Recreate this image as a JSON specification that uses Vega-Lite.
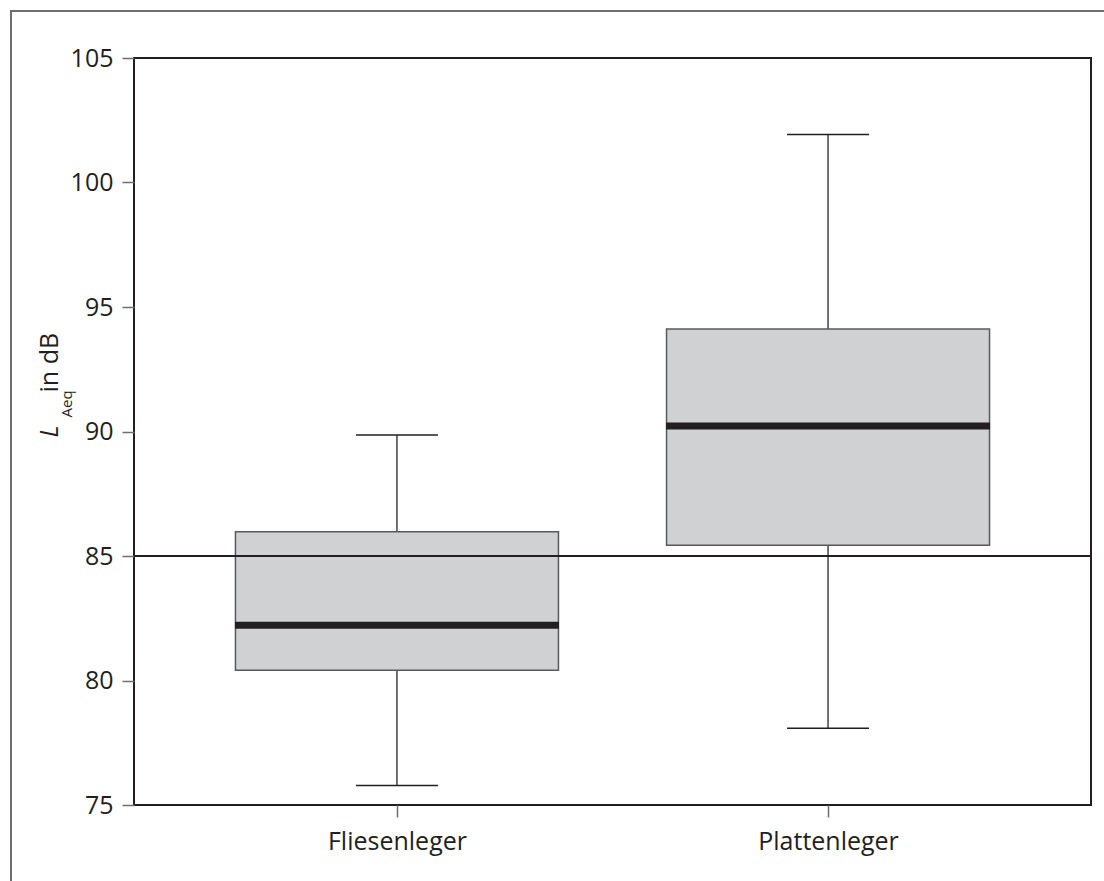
{
  "$schema": "https://vega.github.io/schema/vega-lite/v6.json",
  "width": 957,
  "height": 747,
  "autosize": "none",
  "padding": {"left": 134, "top": 58, "right": 13, "bottom": 76},
  "background": "white",
  "data": {
    "values": [
      {"group": "Fliesenleger", "lower": 75.78, "q1": 80.41, "median": 82.22, "q3": 85.97, "upper": 89.86},
      {"group": "Plattenleger", "lower": 78.08, "q1": 85.43, "median": 90.22, "q3": 94.12, "upper": 101.93}
    ]
  },
  "config": {
    "view": {"stroke": "#231f20", "strokeWidth": 2},
    "font": "Open Sans",
    "axis": {
      "grid": false,
      "domain": false,
      "labelFont": "Open Sans",
      "labelFontSize": 25,
      "labelColor": "#231f20",
      "tickColor": "#6d6e70",
      "tickSize": 12,
      "tickWidth": 1.5,
      "titleFont": "Open Sans",
      "titleColor": "#231f20",
      "titleFontWeight": "normal"
    }
  },
  "resolve": {"scale": {"y": "independent"}, "axis": {"y": "independent"}},
  "layer": [
    {
      "mark": {"type": "rule", "color": "#414042", "strokeWidth": 1.5},
      "encoding": {
        "x": {
          "field": "group",
          "type": "nominal",
          "scale": {"type": "point", "padding": 0.61},
          "axis": {"title": null, "labelAngle": 0, "labelPadding": 12}
        },
        "y": {
          "field": "lower",
          "type": "quantitative",
          "scale": {"domain": [75, 105], "nice": false, "zero": false},
          "axis": {
            "orient": "left",
            "values": [75, 80, 85, 90, 95, 100, 105],
            "labelPadding": 9,
            "title": "in dB",
            "titleFontSize": 25,
            "titleX": -77,
            "titleY": 334,
            "titleAngle": 270,
            "titleAlign": "left",
            "titleBaseline": "alphabetic"
          }
        },
        "y2": {"field": "upper"}
      }
    },
    {
      "mark": {"type": "bar", "size": 323, "fill": "#d0d1d3", "stroke": "#58595b", "strokeWidth": 1.5},
      "encoding": {
        "x": {"field": "group", "type": "nominal"},
        "y": {
          "field": "q1",
          "type": "quantitative",
          "scale": {"domain": [75, 105], "nice": false, "zero": false},
          "axis": {
            "orient": "left",
            "labels": false,
            "ticks": false,
            "domain": false,
            "title": "L",
            "titleFontStyle": "italic",
            "titleFontSize": 25,
            "titleX": -77,
            "titleY": 379,
            "titleAngle": 270,
            "titleAlign": "left",
            "titleBaseline": "alphabetic"
          }
        },
        "y2": {"field": "q3"}
      }
    },
    {
      "mark": {"type": "tick", "size": 324, "thickness": 7, "color": "#231f20", "opacity": 1},
      "encoding": {
        "x": {"field": "group", "type": "nominal"},
        "y": {
          "field": "median",
          "type": "quantitative",
          "scale": {"domain": [75, 105], "nice": false, "zero": false},
          "axis": {
            "orient": "left",
            "labels": false,
            "ticks": false,
            "domain": false,
            "title": "Aeq",
            "titleFontSize": 15,
            "titleX": -63,
            "titleY": 359,
            "titleAngle": 270,
            "titleAlign": "left",
            "titleBaseline": "alphabetic"
          }
        }
      }
    },
    {
      "transform": [{"fold": ["lower", "upper"], "as": ["k", "v"]}],
      "mark": {"type": "tick", "size": 82, "thickness": 1.5, "color": "#231f20", "opacity": 1},
      "encoding": {
        "x": {"field": "group", "type": "nominal"},
        "y": {
          "field": "v",
          "type": "quantitative",
          "scale": {"domain": [75, 105], "nice": false, "zero": false},
          "axis": null
        }
      }
    },
    {
      "data": {"values": [{"ref": 85}]},
      "mark": {"type": "rule", "strokeWidth": 2},
      "encoding": {
        "y": {
          "field": "ref",
          "type": "quantitative",
          "scale": {"domain": [75, 105], "nice": false, "zero": false},
          "axis": null
        },
        "color": {
          "datum": "frame",
          "scale": {"range": ["#231f20"]},
          "legend": {
            "orient": "none",
            "legendX": -123,
            "legendY": -47,
            "padding": 1500,
            "strokeColor": "#6d6e70",
            "title": null,
            "labelExpr": "''",
            "symbolOpacity": 0,
            "encode": {"legend": {"update": {"strokeWidth": {"value": 2}}}}
          }
        }
      }
    }
  ]
}
